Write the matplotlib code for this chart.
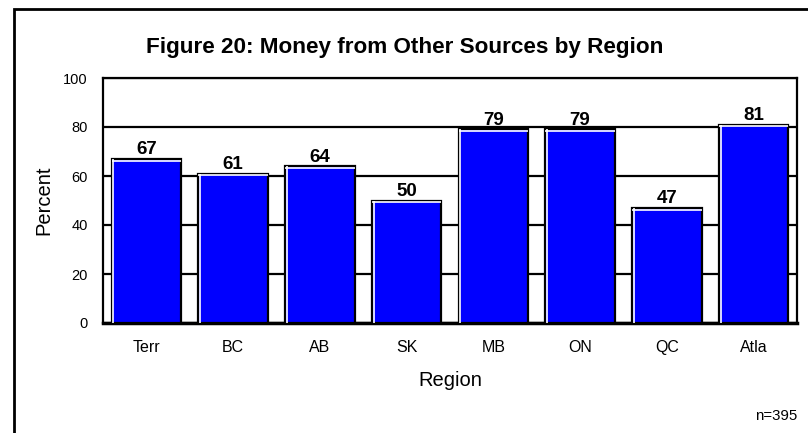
import matplotlib
matplotlib.use("Agg")
import matplotlib.pyplot as plt
import matplotlib.transforms as mtransforms
from matplotlib.patches import Rectangle

plt.rcParams["font.family"] = ["Liberation Sans", "DejaVu Sans"]

regions = ["Terr", "BC", "AB", "SK", "MB", "ON", "QC", "Atla"]
percent = [67, 61, 64, 50, 79, 79, 47, 81]
yticks = [0, 20, 40, 60, 80, 100]

W, H, dpi = 808, 433, 100
fig = plt.figure(figsize=(W / dpi, H / dpi), dpi=dpi)
ax = fig.add_axes([103 / W, 1 - 323 / H, (797 - 103) / W, (323 - 78) / H])

# outer frame (right/bottom run off the picture)
fig.patches.append(Rectangle((14 / W, -0.1), 1.2, 1 - 9 / H + 0.1, transform=fig.transFigure,
                             fill=False, edgecolor="black", linewidth=2, zorder=0))

x = list(range(len(regions)))
bars = ax.bar(x, percent, width=0.8, color="#0000FF", edgecolor="black", linewidth=1.6, zorder=3)

# white highlight inside the left and top edge of each bar
right = mtransforms.ScaledTranslation(1.8 / dpi, 0, fig.dpi_scale_trans)
down = mtransforms.ScaledTranslation(0, -1.8 / dpi, fig.dpi_scale_trans)
for b in bars:
    bx, bw, bh = b.get_x(), b.get_width(), b.get_height()
    ax.plot([bx, bx], [0, bh], color="white", linewidth=1.2,
            transform=ax.transData + right, zorder=4, solid_capstyle="butt")
    ax.plot([bx, bx + bw], [bh, bh], color="white", linewidth=1.2,
            transform=ax.transData + down, zorder=4, solid_capstyle="butt")
    ax.text(bx + bw / 2, bh + 0.2, str(bh), ha="center", va="bottom",
            fontsize=13.5, fontweight="bold", zorder=5)

ax.set_xlim(-0.5, len(regions) - 0.5)
ax.set_ylim(0, 100)
ax.set_yticks(yticks)
ax.set_xticks(x)
ax.set_xticklabels(regions)
ax.tick_params(axis="x", length=0, labelsize=11.5, pad=12)
ax.tick_params(axis="y", length=0, labelsize=10.5, pad=10.8)
ax.yaxis.grid(True, color="black", linewidth=1.6, zorder=1)
ax.set_axisbelow(True)
for s in ax.spines.values():
    s.set_linewidth(1.6)
ax.spines["bottom"].set_linewidth(2.5)

ax.set_xlabel("Region", fontsize=14.5)
ax.set_ylabel("Percent", fontsize=14.5)
ax.xaxis.set_label_coords(0.5, (323 - 380) / 245)
ax.xaxis.label.set_va("center")
ax.yaxis.set_label_coords((44 - 103) / 694, 0.5)
ax.yaxis.label.set_va("center")

fig.text(405 / W, 1 - 47 / H, "Figure 20: Money from Other Sources by Region",
         ha="center", va="center", fontsize=16.2, fontweight="bold")
fig.text(797 / W, 1 - 416 / H, "n=395", ha="right", va="center", fontsize=10.8)

fig.savefig("out.png", dpi=dpi)
